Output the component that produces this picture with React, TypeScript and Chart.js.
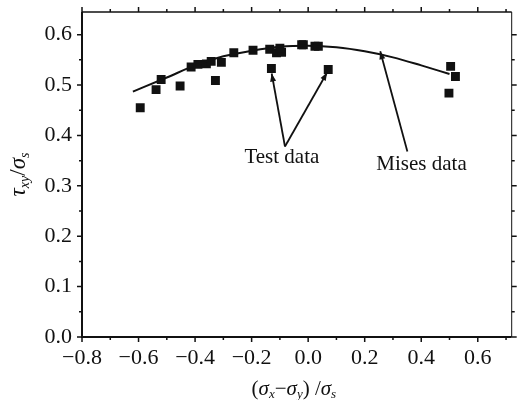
import React, { useEffect, useRef } from "react";
import { Chart, registerables } from "chart.js";

Chart.register(...registerables);

// Test data (measured points)
const testX = [-0.594, -0.538, -0.52, -0.453, -0.414, -0.39, -0.36, -0.343, -0.307, -0.328, -0.263, -0.195, -0.13, -0.136, -0.112, -0.094, -0.1, -0.023, 0.024, -0.017, 0.036, 0.071, 0.504, 0.521, 0.498];
const testY = [0.455, 0.491, 0.511, 0.498, 0.536, 0.541, 0.542, 0.547, 0.545, 0.509, 0.564, 0.569, 0.533, 0.571, 0.564, 0.565, 0.573, 0.58, 0.577, 0.58, 0.577, 0.531, 0.537, 0.517, 0.484];

// Mises curve
const misesX = [-0.62, -0.5, -0.4, -0.3, -0.2, -0.1, 0.0, 0.1, 0.2, 0.3, 0.4, 0.5];
const misesY = [0.487, 0.515, 0.539, 0.557, 0.568, 0.576, 0.578, 0.575, 0.567, 0.555, 0.539, 0.522];

// Axis ranges / ticks
const xRange = [-0.8, 0.72];
const yRange = [0, 0.645];
const xMajorStep = 0.2;
const yMajorStep = 0.1;
const xMinorStep = 0.1;
const yMinorStep = 0.05;

// Annotations (data coordinates)
const testLabel = { text: "Test data", x: -0.093, y: 0.356 };
const testArrowFrom = [-0.082, 0.378];
const testArrowTo = [
  [-0.129, 0.523],
  [0.067, 0.525],
];
const misesLabel = { text: "Mises data", x: 0.401, y: 0.342 };
const misesArrowFrom = [0.351, 0.368];
const misesArrowTo = [0.255, 0.567];

const SERIF = "'Liberation Serif', 'DejaVu Serif', serif";

type Seg = { t: string; sub?: boolean; it?: boolean };

function drawRich(ctx: CanvasRenderingContext2D, segs: Seg[], size: number) {
  const fontFor = (s: Seg) =>
    `${s.it ? "italic " : ""}${s.sub ? Math.round(size * 0.62) : size}px ${SERIF}`;
  let w = 0;
  for (const s of segs) {
    ctx.font = fontFor(s);
    w += ctx.measureText(s.t).width;
  }
  let x = -w / 2;
  ctx.textBaseline = "middle";
  ctx.textAlign = "left";
  for (const s of segs) {
    ctx.font = fontFor(s);
    ctx.fillText(s.t, x, s.sub ? size * 0.28 : 0);
    x += ctx.measureText(s.t).width;
  }
}

function arrow(ctx: CanvasRenderingContext2D, x1: number, y1: number, x2: number, y2: number) {
  ctx.beginPath();
  ctx.moveTo(x1, y1);
  ctx.lineTo(x2, y2);
  ctx.stroke();
  const ang = Math.atan2(y2 - y1, x2 - x1);
  const L = 8, W = 3;
  ctx.beginPath();
  ctx.moveTo(x2, y2);
  ctx.lineTo(x2 - L * Math.cos(ang) + W * Math.sin(ang), y2 - L * Math.sin(ang) - W * Math.cos(ang));
  ctx.lineTo(x2 - L * Math.cos(ang) - W * Math.sin(ang), y2 - L * Math.sin(ang) + W * Math.cos(ang));
  ctx.closePath();
  ctx.fill();
}

const framePlugin = {
  id: "frame",
  beforeDatasetsDraw(chart: any) {
    const { ctx, chartArea: a, scales } = chart;
    const xs = scales.x, ys = scales.y;
    ctx.save();
    ctx.strokeStyle = "#111";
    ctx.lineCap = "butt";
    ctx.lineWidth = 2;
    ctx.beginPath();
    ctx.moveTo(a.left, a.top);
    ctx.lineTo(a.left, a.bottom);
    ctx.lineTo(a.right, a.bottom);
    ctx.stroke();
    ctx.lineWidth = 1.5;
    ctx.beginPath();
    ctx.moveTo(a.left, a.top);
    ctx.lineTo(a.right, a.top);
    ctx.stroke();
    ctx.lineWidth = 1;
    ctx.beginPath();
    ctx.moveTo(a.right, a.top);
    ctx.lineTo(a.right, a.bottom);
    ctx.stroke();
    ctx.lineWidth = 1.5;
    for (let i = 0; ; i++) {
      const v = xRange[0] + i * xMinorStep;
      if (v > xRange[1] + 1e-9) break;
      const major = i % Math.round(xMajorStep / xMinorStep) === 0;
      const len = major ? 5 : 3;
      const px = xs.getPixelForValue(v);
      ctx.beginPath();
      ctx.moveTo(px, a.bottom);
      ctx.lineTo(px, a.bottom + len);
      ctx.moveTo(px, a.top);
      ctx.lineTo(px, a.top - len);
      ctx.stroke();
    }
    for (let i = 0; ; i++) {
      const v = yRange[0] + i * yMinorStep;
      if (v > yRange[1] + 1e-9) break;
      const major = i % Math.round(yMajorStep / yMinorStep) === 0;
      const len = major ? 5 : 3;
      const py = ys.getPixelForValue(v);
      ctx.beginPath();
      ctx.moveTo(a.left, py);
      ctx.lineTo(a.left - len, py);
      ctx.moveTo(a.right, py);
      ctx.lineTo(a.right + len, py);
      ctx.stroke();
    }
    ctx.restore();
  },
  afterDraw(chart: any) {
    const { ctx, chartArea: a, scales } = chart;
    const xs = scales.x, ys = scales.y;
    const X = (v: number) => xs.getPixelForValue(v);
    const Y = (v: number) => ys.getPixelForValue(v);
    ctx.save();
    ctx.fillStyle = "#111";
    ctx.strokeStyle = "#111";
    ctx.lineWidth = 1.8;
    ctx.font = `21px ${SERIF}`;
    ctx.textAlign = "center";
    ctx.textBaseline = "middle";
    ctx.fillText(testLabel.text, X(testLabel.x), Y(testLabel.y));
    ctx.fillText(misesLabel.text, X(misesLabel.x), Y(misesLabel.y));
    for (const t of testArrowTo) {
      arrow(ctx, X(testArrowFrom[0]), Y(testArrowFrom[1]), X(t[0]), Y(t[1]));
    }
    arrow(ctx, X(misesArrowFrom[0]), Y(misesArrowFrom[1]), X(misesArrowTo[0]), Y(misesArrowTo[1]));
    ctx.save();
    ctx.translate(19, (a.top + a.bottom) / 2);
    ctx.rotate(-Math.PI / 2);
    drawRich(ctx, [
      { t: "τ", it: true },
      { t: "xy", sub: true, it: true },
      { t: "/" },
      { t: "σ", it: true },
      { t: "s", sub: true, it: true },
    ], 23);
    ctx.restore();
    ctx.save();
    ctx.translate((a.left + a.right) / 2 - 3, 389);
    drawRich(ctx, [
      { t: "(" },
      { t: "σ", it: true },
      { t: "x", sub: true, it: true },
      { t: "−" },
      { t: "σ", it: true },
      { t: "y", sub: true, it: true },
      { t: ") /" },
      { t: "σ", it: true },
      { t: "s", sub: true, it: true },
    ], 21);
    ctx.restore();
    ctx.restore();
  },
};

export default function App() {
  const ref = useRef<HTMLCanvasElement | null>(null);
  useEffect(() => {
    if (!ref.current) return;
    const fmt = (v: number) => {
      const s = Math.abs(v).toFixed(1);
      return v < -1e-9 ? "−" + s : s;
    };
    const chart = new Chart(ref.current, {
      type: "scatter",
      data: {
        datasets: [
          {
            type: "line",
            label: "Mises data",
            data: misesX.map((x, i) => ({ x, y: misesY[i] })),
            borderColor: "#111",
            borderWidth: 2,
            pointRadius: 0,
            fill: false,
            cubicInterpolationMode: "monotone",
          } as any,
          {
            label: "Test data",
            data: testX.map((x, i) => ({ x, y: testY[i] })),
            backgroundColor: "#111",
            borderColor: "#111",
            borderWidth: 0,
            pointStyle: "rect",
            pointRadius: 6.3,
          },
        ],
      },
      options: {
        animation: false,
        responsive: true,
        maintainAspectRatio: false,
        layout: { padding: { top: 12, right: 4, left: 0, bottom: 0 } },
        plugins: { legend: { display: false }, tooltip: { enabled: false } },
        scales: {
          x: {
            type: "linear",
            min: xRange[0],
            max: xRange[1],
            grid: { display: false, drawTicks: false },
            border: { display: false },
            ticks: {
              stepSize: xMajorStep,
              includeBounds: false,
              padding: 8,
              color: "#111",
              font: { family: SERIF, size: 22 },
              maxRotation: 0,
              autoSkip: false,
              callback: (v: any) => fmt(Number(v)),
            },
            afterFit: (s: any) => {
              s.height = 63;
              s.paddingLeft = 0;
              s.paddingRight = 0;
            },
          },
          y: {
            type: "linear",
            min: yRange[0],
            max: yRange[1],
            grid: { display: false, drawTicks: false },
            border: { display: false },
            ticks: {
              stepSize: yMajorStep,
              includeBounds: false,
              padding: 10,
              color: "#111",
              font: { family: SERIF, size: 22 },
              autoSkip: false,
              callback: (v: any) => fmt(Number(v)),
            },
            afterFit: (s: any) => {
              s.width = 82;
              s.paddingTop = 0;
              s.paddingBottom = 0;
            },
          },
        },
      },
      plugins: [framePlugin],
    });
    return () => chart.destroy();
  }, []);
  return (
    <div style={{ position: "absolute", left: 0, top: 0, width: 518, height: 400, background: "#fff" }}>
      <canvas ref={ref} />
    </div>
  );
}
